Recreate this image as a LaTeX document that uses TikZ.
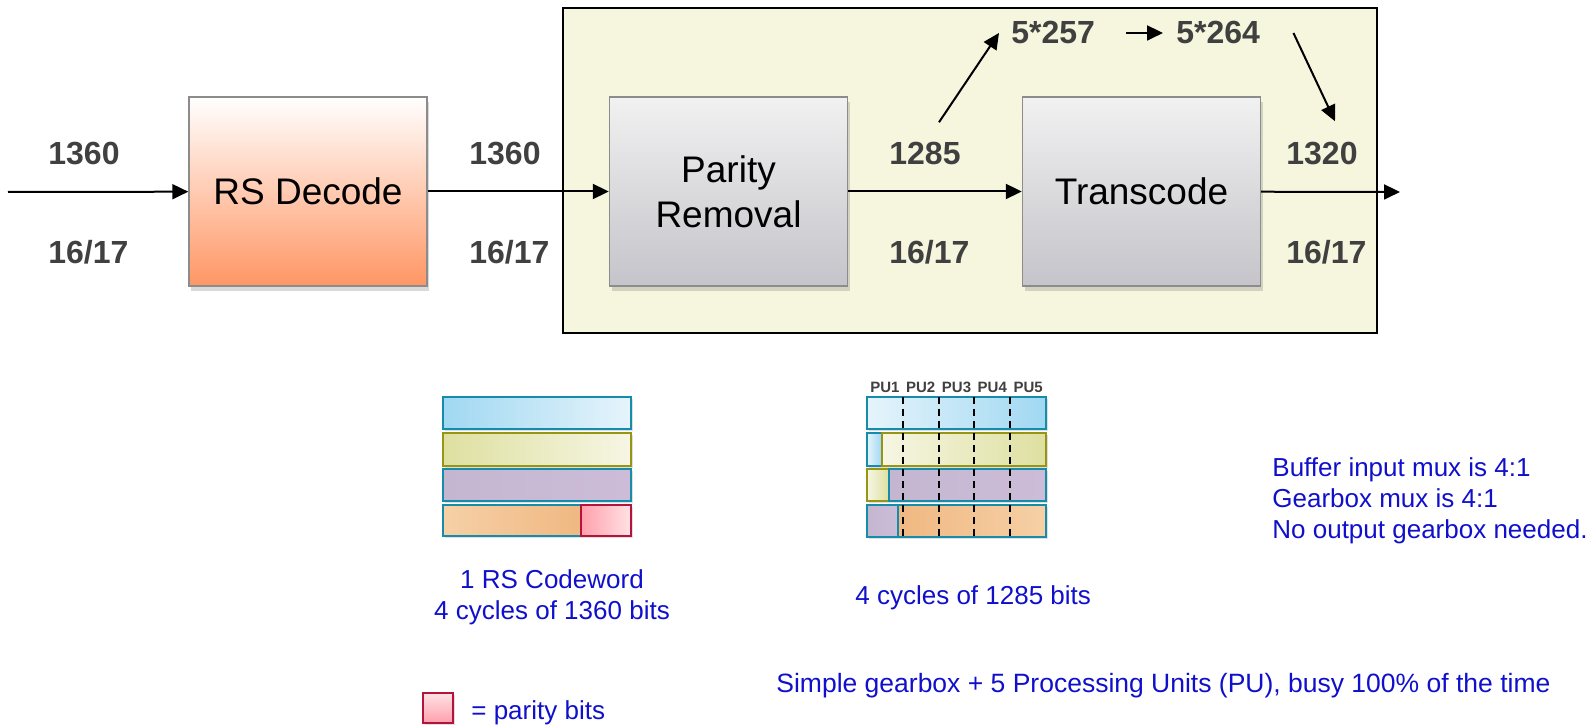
\documentclass[tikz,border=0pt]{standalone}
\usepackage{fontspec}
\setmainfont{Liberation Sans}
\usetikzlibrary{positioning, arrows.meta, shadows}

\definecolor{framefill}{RGB}{246,246,222}
\definecolor{numgray}{RGB}{64,64,64}
\definecolor{noteblue}{RGB}{16,16,204}
\definecolor{rsorange}{RGB}{255,150,100}
\definecolor{boxtop}{RGB}{241,241,241}
\definecolor{boxbot}{RGB}{196,196,202}
\definecolor{boxedge}{RGB}{140,140,140}
\definecolor{rowteal}{RGB}{20,140,170}
\definecolor{rowolive}{RGB}{150,150,20}
\definecolor{rowred}{RGB}{180,20,60}
\definecolor{blueA}{RGB}{160,216,242}
\definecolor{blueB}{RGB}{230,244,251}
\definecolor{yellowA}{RGB}{222,224,160}
\definecolor{yellowB}{RGB}{246,246,228}
\definecolor{purpleA}{RGB}{196,182,208}
\definecolor{purpleB}{RGB}{204,188,216}
\definecolor{orangeA}{RGB}{246,208,166}
\definecolor{orangeB}{RGB}{240,184,130}
\definecolor{pinkA}{RGB}{255,160,172}
\definecolor{pinkB}{RGB}{255,226,228}

\begin{document}
\begin{tikzpicture}[
    x=0.5pt, y=-0.5pt,
    block/.style={draw=boxedge, line width=0.7pt, rectangle, minimum width=119pt, minimum height=94.5pt, align=center, font=\fontsize{18.5}{22.5}\selectfont, drop shadow={shadow xshift=1pt, shadow yshift=-2.5pt, opacity=0.3}},
    rate/.style={font=\fontsize{16}{18}\selectfont\bfseries, text=numgray, inner sep=0pt, anchor=base west},
    note/.style={font=\fontsize{13}{15.5}\selectfont, text=noteblue, inner sep=0pt},
    pu/.style={font=\fontsize{7.5}{9}\selectfont\bfseries, text=numgray, inner sep=0pt, anchor=base},
    arrow/.style={-{Triangle[length=8pt, width=7.5pt]}, line width=1pt},
    cell/.style={line width=0.8pt, drop shadow={shadow xshift=0.8pt, shadow yshift=-1pt, opacity=0.25}},
    divider/.style={line width=1pt, dash pattern=on 3.5pt off 2.5pt},
]
\useasboundingbox (0,0) rectangle (1596,726);

% Processing stage frame
\draw[line width=1.2pt, fill=framefill] (563,8) rectangle (1377,333);

% Blocks
\node[block, top color=white, bottom color=rsorange] (rs) at (308,191.5) {RS Decode};
\node[block, top color=boxtop, bottom color=boxbot] (parity) at (728.5,191.5) {Parity\\Removal};
\node[block, top color=boxtop, bottom color=boxbot] (trans) at (1141.5,191.5) {Transcode};

\coordinate (in) at (8,192);
\coordinate (out) at (1400,192);

% Widths and rates
\node[rate] (w1) at (48,165) {1360};
\node[rate] (r1) at (48,264) {16/17};
\node[rate] (w2) at (469,165) {1360};
\node[rate] (r2) at (469,264) {16/17};
\node[rate] (w3) at (889,165) {1285};
\node[rate] (r3) at (889,264) {16/17};
\node[rate] (w4) at (1286,165) {1320};
\node[rate] (r4) at (1286,264) {16/17};
\node[rate] (pu257) at (1011,44) {5*257};
\node[rate] (pu264) at (1176,44) {5*264};

% Connections
\draw[arrow] (in) -- (rs);
\draw[arrow] (rs) -- (parity);
\draw[arrow] (parity) -- (trans);
\draw[arrow] (trans) -- (out);

\draw[arrow] ([xshift=7pt, yshift=10pt]w3.north) -- ([xshift=-6pt]pu257.west);
\draw[arrow] ([xshift=15.5pt]pu257.east) -- ([xshift=-6.5pt]pu264.west);
\draw[arrow] ([xshift=16.5pt]pu264.east) -- ([xshift=6.5pt, yshift=10.5pt]w4.north);

% RS codeword buffer
\draw[cell, draw=rowteal, left color=blueA, right color=blueB] (443,397) rectangle (631,429);
\draw[cell, draw=rowolive, left color=yellowA, right color=yellowB] (443,433) rectangle (631,466);
\draw[cell, draw=rowteal, left color=purpleA, right color=purpleB] (443,469) rectangle (631,501);
\draw[cell, draw=rowteal, left color=orangeA, right color=orangeB] (443,505) rectangle (581,536);
\draw[cell, draw=rowred, left color=pinkA, right color=pinkB] (581,505) rectangle (631,536);

\node[note, align=center] (cwtext) at (552,597) {1 RS Codeword\\4 cycles of 1360 bits};

% PU buffer
\draw[cell, draw=rowteal, left color=blueB, right color=blueA] (867,397) rectangle (1046,429);
\draw[cell, draw=rowteal, left color=blueB, right color=blueA] (867,433) rectangle (882,466);
\draw[cell, draw=rowolive, left color=yellowB, right color=yellowA] (882,433) rectangle (1046,466);
\draw[cell, draw=rowolive, left color=yellowB, right color=yellowA] (867,469) rectangle (889,501);
\draw[cell, draw=rowteal, left color=purpleA, right color=purpleB] (889,469) rectangle (1046,501);
\draw[cell, draw=rowteal, left color=purpleA, right color=purpleB] (867,505) rectangle (898,537);
\draw[cell, draw=rowteal, left color=orangeB, right color=orangeA] (898,505) rectangle (1046,537);

\draw[divider] (902.8,397) -- (902.8,537);
\draw[divider] (938.6,397) -- (938.6,537);
\draw[divider] (974.4,397) -- (974.4,537);
\draw[divider] (1010.2,397) -- (1010.2,537);

\node[pu] (pu1) at (884.9,393) {PU1};
\node[pu] (pu2) at (920.7,393) {PU2};
\node[pu] (pu3) at (956.5,393) {PU3};
\node[pu] (pu4) at (992.3,393) {PU4};
\node[pu] (pu5) at (1028.1,393) {PU5};

\node[note, anchor=base west] (putext) at (855,605) {4 cycles of 1285 bits};

% Notes
\node[note, align=left, anchor=west] (muxnote) at (1272,501) {Buffer input mux is 4:1\\Gearbox mux is 4:1\\No output gearbox needed.};
\node[note, anchor=base west, font=\fontsize{13.25}{15.5}\selectfont] (summary) at (776,693) {Simple gearbox + 5 Processing Units (PU), busy 100\% of the time};

% Legend
\draw[cell, draw=rowred, top color=pinkB, bottom color=pinkA] (423,693) rectangle (453,723);
\node[note, anchor=base west] (legend) at (471,719) {= parity bits};

\end{tikzpicture}
\end{document}
